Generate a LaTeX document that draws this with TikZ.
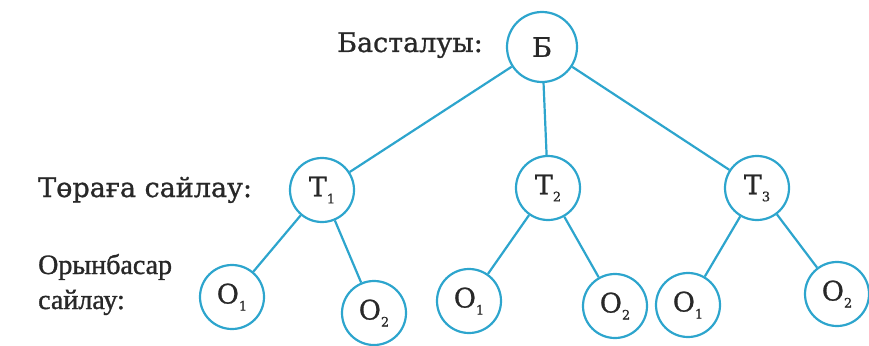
\documentclass[tikz,border=0pt]{standalone}
\usepackage{fontspec}
\setmainfont{DejaVu Serif}[FakeBold=0.9]
\newfontfamily\compactserif{Liberation Serif}[FakeBold=1.2]
\definecolor{edge}{RGB}{45,165,205}
\definecolor{ink}{RGB}{40,40,40}
\newcommand\idx[1]{\raisebox{-7pt}{\fontsize{13}{13}\selectfont #1}}
\begin{document}
\begin{tikzpicture}[x=1pt,y=-1pt,
  vert/.style={circle,draw=edge,line width=2.2pt,minimum size=64pt,inner sep=0pt,
               text=ink,font=\fontsize{27}{30}\selectfont},
  lbl/.style={text=ink,font=\fontsize{27}{30}\selectfont,inner sep=0pt},
  lbltwo/.style={lbl,font=\compactserif\fontsize{28}{30}\selectfont},
  link/.style={draw=edge,line width=2.2pt}]
\useasboundingbox (0,0) rectangle (869,345);

% level labels
\node[lbl,anchor=base] (lb) at (410,52) {Басталуы:};
\node[lbl,anchor=base west] (lt) at (38,197) {Төраға сайлау:};
\node[lbltwo,anchor=base west] (lo1) at (38,274) {Орынбасар};
\node[lbltwo,anchor=base west] (lo2) at (38,309) {сайлау:};

% tree vertices
\node[vert,minimum size=70pt] (b) at (542,47) {Б};
\node[vert] (t1) at (322,190) {Т\idx{1}};
\node[vert] (t2) at (548,188) {Т\idx{2}};
\node[vert] (t3) at (757,188) {Т\idx{3}};
\node[vert] (o11) at (232,297) {О\idx{1}};
\node[vert] (o12) at (374,313) {О\idx{2}};
\node[vert] (o21) at (469,301) {О\idx{1}};
\node[vert] (o22) at (615,306) {О\idx{2}};
\node[vert] (o31) at (688,305) {О\idx{1}};
\node[vert] (o32) at (837,294) {О\idx{2}};

% branches
\draw[link] (b) -- (t1);
\draw[link] (b) -- (t2);
\draw[link] (b) -- (t3);
\draw[link] (t1) -- (o11);
\draw[link] (t1) -- (o12);
\draw[link] (t2) -- (o21);
\draw[link] (t2) -- (o22);
\draw[link] (t3) -- (o31);
\draw[link] (t3) -- (o32);
\end{tikzpicture}
\end{document}
